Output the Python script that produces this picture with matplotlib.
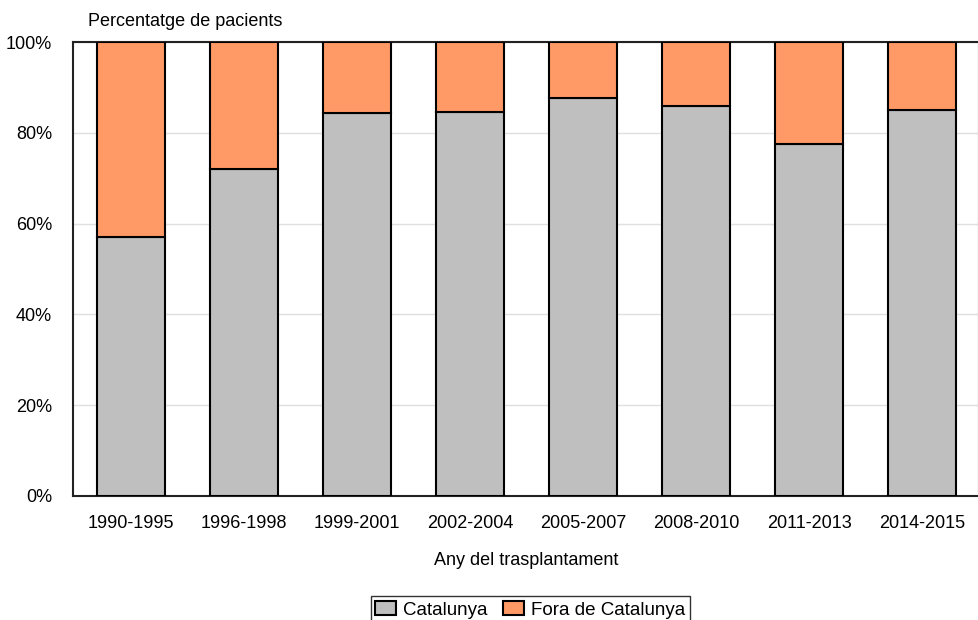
import numpy as np
import matplotlib.pyplot as plt
from matplotlib.ticker import PercentFormatter

plt.rcParams['font.family'] = ['Liberation Sans', 'DejaVu Sans']

periodes = ['1990-1995', '1996-1998', '1999-2001', '2002-2004',
            '2005-2007', '2008-2010', '2011-2013', '2014-2015']
catalunya = [57, 72, 84.5, 84.7, 87.7, 86, 77.5, 85]
fora = [100 - v for v in catalunya]

fig = plt.figure(figsize=(9.79, 6.2), dpi=100)
ax = fig.add_axes([0.0746, 0.2, 0.925, 0.732])

x = np.arange(len(periodes))
ax.bar(x, catalunya, width=0.6, color='#bfbfbf', edgecolor='black', linewidth=1.5,
       label='Catalunya', zorder=3)
ax.bar(x, fora, width=0.6, bottom=catalunya, color='#ff9966', edgecolor='black',
       linewidth=1.5, label='Fora de Catalunya', zorder=3)

ax.set_xlim(-0.51, 7.5)
ax.set_ylim(0, 100)
ax.set_yticks(range(0, 101, 20))
ax.yaxis.set_major_formatter(PercentFormatter(decimals=0))
ax.set_xticks(x)
ax.set_xticklabels(periodes)
ax.tick_params(axis='both', length=0, labelsize=13)
ax.tick_params(axis='x', pad=14)
ax.tick_params(axis='y', pad=15)
ax.grid(axis='y', color='#e0e0e0', linewidth=1, zorder=0)
for s in ax.spines.values():
    s.set_color('#222222')
    s.set_linewidth(1.5)

ax.set_xlabel('Any del trasplantament', fontsize=13, labelpad=14)
fig.text(0.09, 0.952, 'Percentatge de pacients', fontsize=13, va='bottom')

leg = ax.legend(loc='upper center', bbox_to_anchor=(0.505, -0.2), ncol=2,
                frameon=True, fancybox=False, edgecolor='black', fontsize=13.5,
                handlelength=1.1, handleheight=0.8, handletextpad=0.4,
                columnspacing=0.8, borderpad=0.25)
leg.get_frame().set_linewidth(1)

fig.savefig('out.png', dpi=100)
